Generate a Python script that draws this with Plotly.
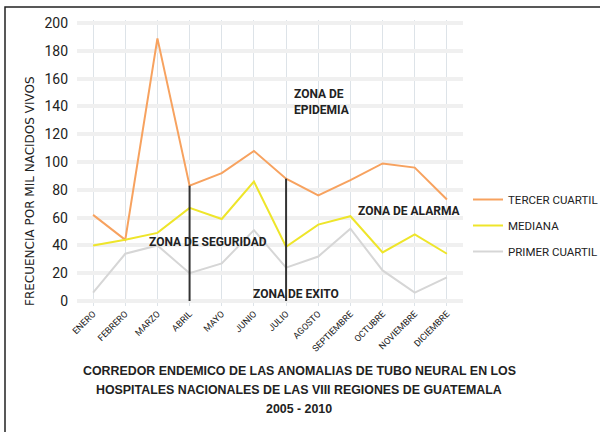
import plotly.graph_objects as go

meses = ["ENERO", "FEBRERO", "MARZO", "ABRIL", "MAYO", "JUNIO", "JULIO",
         "AGOSTO", "SEPTIEMBRE", "OCTUBRE", "NOVIEMBRE", "DICIEMBRE"]
tercer_cuartil = [62, 44, 189, 83, 92, 108, 88, 76, 87, 99, 96, 73]
mediana = [40, 44, 49, 67, 59, 86, 39, 55, 61, 35, 48, 34]
primer_cuartil = [6, 34, 40, 20, 27, 51, 24, 32, 52, 22, 6, 17]
y_ticks = [0, 20, 40, 60, 80, 100, 120, 140, 160, 180, 200]
strong_grid = [40, 100, 160, 200]

NARROW = "Roboto, Liberation Sans, sans-serif"

fig = go.Figure()

# stronger horizontal grid lines
for g in strong_grid:
    fig.add_shape(type="line", xref="paper", yref="y", x0=0, x1=1, y0=g, y1=g,
                  line=dict(color="#D8DBDF", width=1.5), layer="below")

series = [("TERCER CUARTIL", tercer_cuartil, "#F7A25F"),
          ("MEDIANA", mediana, "#EEE52A"),
          ("PRIMER CUARTIL", primer_cuartil, "#D6D6D6")]
for i, (name, vals, col) in enumerate(series):
    fig.add_trace(go.Scatter(x=meses, y=vals, name=name, mode="lines",
                             line=dict(color=col, width=2), legendgroup=f"g{i}"))

# vertical separators at ABRIL and JULIO
for m in ["ABRIL", "JULIO"]:
    idx = meses.index(m)
    fig.add_shape(type="line", xref="x", yref="y", x0=m, x1=m, y0=0,
                  y1=tercer_cuartil[idx], line=dict(color="#333333", width=2))

L, R, T, B = 77, 137, 20, 126
W, H = 600, 432
pw, ph = W - L - R, H - T - B

def px(x):
    return (x - L) / pw

def py(y):
    return (H - B - y) / ph

# outer border
fig.add_shape(type="rect", xref="paper", yref="paper",
              x0=px(5), x1=px(610), y0=py(445), y1=py(7),
              line=dict(color="#222222", width=1.5), layer="below")

def ann(text, x, y, size=12, **kw):
    fam = kw.pop("family", NARROW)
    kw.setdefault("xanchor", "center")
    fig.add_annotation(text=text, xref="paper", yref="paper", x=px(x), y=py(y),
                       yanchor="middle", showarrow=False,
                       font=dict(size=size, color="#222222", family=fam), **kw)

ann("<b>ZONA DE<br>EPIDEMIA</b>", 292, 102, size=12, xanchor="left", align="left")
ann("<b>ZONA DE ALARMA</b>", 409, 211, size=12)
ann("<b>ZONA DE SEGURIDAD</b>", 208, 242, size=12)
ann("<b>ZONA DE EXITO</b>", 296, 294, size=12)
ann("FRECUENCIA POR MIL NACIDOS VIVOS", 30, 191, size=12, textangle=-90,
    family="DejaVu Sans, sans-serif")
TF = "Liberation Sans, Arial, sans-serif"
ann("<b>CORREDOR ENDEMICO DE LAS ANOMALIAS DE TUBO NEURAL EN LOS</b>", 299, 371, size=12.4, family=TF)
ann("<b>HOSPITALES NACIONALES DE LAS VIII REGIONES DE GUATEMALA</b>", 299, 390, size=12.4, family=TF)
ann("<b>2005 - 2010</b>", 299, 409, size=12.4, family=TF)

fig.update_layout(
    width=W, height=H,
    margin=dict(l=L, r=R, t=T, b=B, autoexpand=False),
    paper_bgcolor="white", plot_bgcolor="white",
    showlegend=True,
    legend=dict(x=px(468), y=py(185), xanchor="left", yanchor="top",
                font=dict(size=11.5, family=NARROW, color="#222222"),
                tracegroupgap=7, bgcolor="rgba(0,0,0,0)", itemwidth=30),
    xaxis=dict(range=[-0.5, 11.5], showgrid=True, gridcolor="#DDE3E8", gridwidth=1,
               tickangle=-45, tickfont=dict(size=9, family=NARROW, color="#222222"),
               ticks="", showline=False, zeroline=False, automargin=False),
    yaxis=dict(range=[-3.6, 202.2], tickvals=y_ticks, showgrid=True,
               gridcolor="#F0F0F0", gridwidth=4,
               tickfont=dict(size=14, family=NARROW, color="#222222"),
               ticks="", ticklabelstandoff=8, showline=False, zeroline=False, automargin=False),
)

fig.write_html("out.html", config={"displayModeBar": False},
               post_script="document.body.style.margin='0px';")
